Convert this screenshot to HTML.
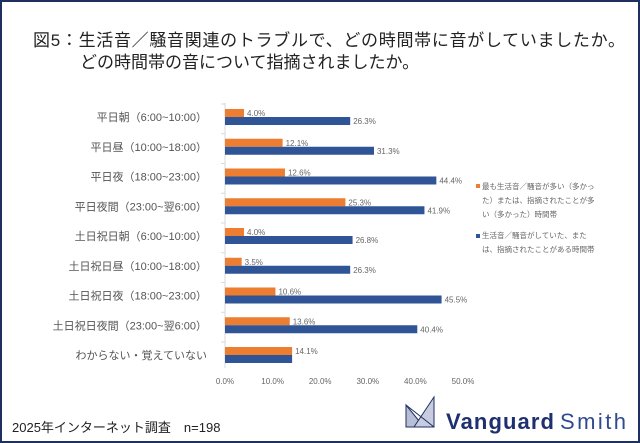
<!DOCTYPE html>
<html><head><meta charset="utf-8"><style>
body{margin:0;width:640px;height:443px;overflow:hidden;background:#fff;font-family:"Liberation Sans","Noto Sans CJK JP",sans-serif}
.frame{position:absolute;left:0;top:0;width:636px;height:439px;border:2px solid #1f3060}
</style></head><body>
<div class="frame"></div>
<svg width="640" height="443" style="position:absolute;left:0;top:0" font-family="Liberation Sans, Noto Sans CJK JP, sans-serif">
<text x="33" y="46" font-size="17" fill="#222" textLength="592">図5：生活音／騒音関連のトラブルで、どの時間帯に音がしていましたか。</text>
<text x="80" y="68" font-size="17" fill="#222">どの時間帯の音について指摘されましたか。</text>
<line x1="225" y1="103" x2="225" y2="368" stroke="#d9d9d9"/>
<g id="bars"></g>
<g font-size="8" fill="#666" text-anchor="middle">
<text x="225" y="384">0.0%</text><text x="272.6" y="384">10.0%</text><text x="320.2" y="384">20.0%</text><text x="367.8" y="384">30.0%</text><text x="415.4" y="384">40.0%</text><text x="463" y="384">50.0%</text>
</g>
<rect x="476" y="184" width="4" height="4" fill="#ed7d31"/>
<g font-size="7.5" fill="#666"><text x="482" y="189">最も生活音／騒音が多い（多かっ</text><text x="482" y="203">た）または、指摘されたことが多</text><text x="482" y="217">い（多かった）時間帯</text>
<text x="482" y="238">生活音／騒音がしていた、また</text><text x="482" y="252">は、指摘されたことがある時間帯</text></g>
<rect x="476" y="234" width="4" height="4" fill="#2f5597"/>
<text x="12" y="432" font-size="13" fill="#222">2025年インターネット調査　n=198</text>
<g transform="translate(406,397)">
<polygon points="0,8 18,30 0,30" fill="#b8bed6" stroke="#1f3060" stroke-width="1"/>
<polygon points="28,0 28,30 8,30" fill="#c8cce0" stroke="#1f3060" stroke-width="1"/>
<line x1="0" y1="8" x2="28" y2="30" stroke="#1f3060"/>
</g>
<text x="446" y="429" font-size="22" font-weight="bold" fill="#1f3070" textLength="108">Vanguard</text>
<text x="560" y="429" font-size="22" fill="#2f4a90" textLength="66">Smith</text>
</svg>
<script>
var cats=["平日朝（6:00~10:00）","平日昼（10:00~18:00）","平日夜（18:00~23:00）","平日夜間（23:00~翌6:00）","土日祝日朝（6:00~10:00）","土日祝日昼（10:00~18:00）","土日祝日夜（18:00~23:00）","土日祝日夜間（23:00~翌6:00）","わからない・覚えていない"];
var o=[4.0,12.1,12.6,25.3,4.0,3.5,10.6,13.6,14.1],b=[26.3,31.3,44.4,41.9,26.8,26.3,45.5,40.4,14.1];
var s="";for(var i=0;i<9;i++){var y=109+i*29.75,k=4.76;
s+='<rect x="225" y="'+y+'" width="'+o[i]*k+'" height="8" fill="#ed7d31"/>';
s+='<rect x="225" y="'+(y+8)+'" width="'+b[i]*k+'" height="8" fill="#2f5597"/>';
s+='<text x="'+(228+o[i]*k)+'" y="'+(y+7)+'" font-size="8" fill="#666">'+o[i].toFixed(1)+'%</text>';
if(i<8)s+='<text x="'+(228+b[i]*k)+'" y="'+(y+15)+'" font-size="8" fill="#666">'+b[i].toFixed(1)+'%</text>';
s+='<text x="207" y="'+(y+12)+'" font-size="11" fill="#555" text-anchor="end">'+cats[i]+'</text>';
s+='<line x1="221" y1="'+(y-5)+'" x2="225" y2="'+(y-5)+'" stroke="#d9d9d9"/>';}
document.getElementById("bars").innerHTML=s;
</script>
</body></html>
